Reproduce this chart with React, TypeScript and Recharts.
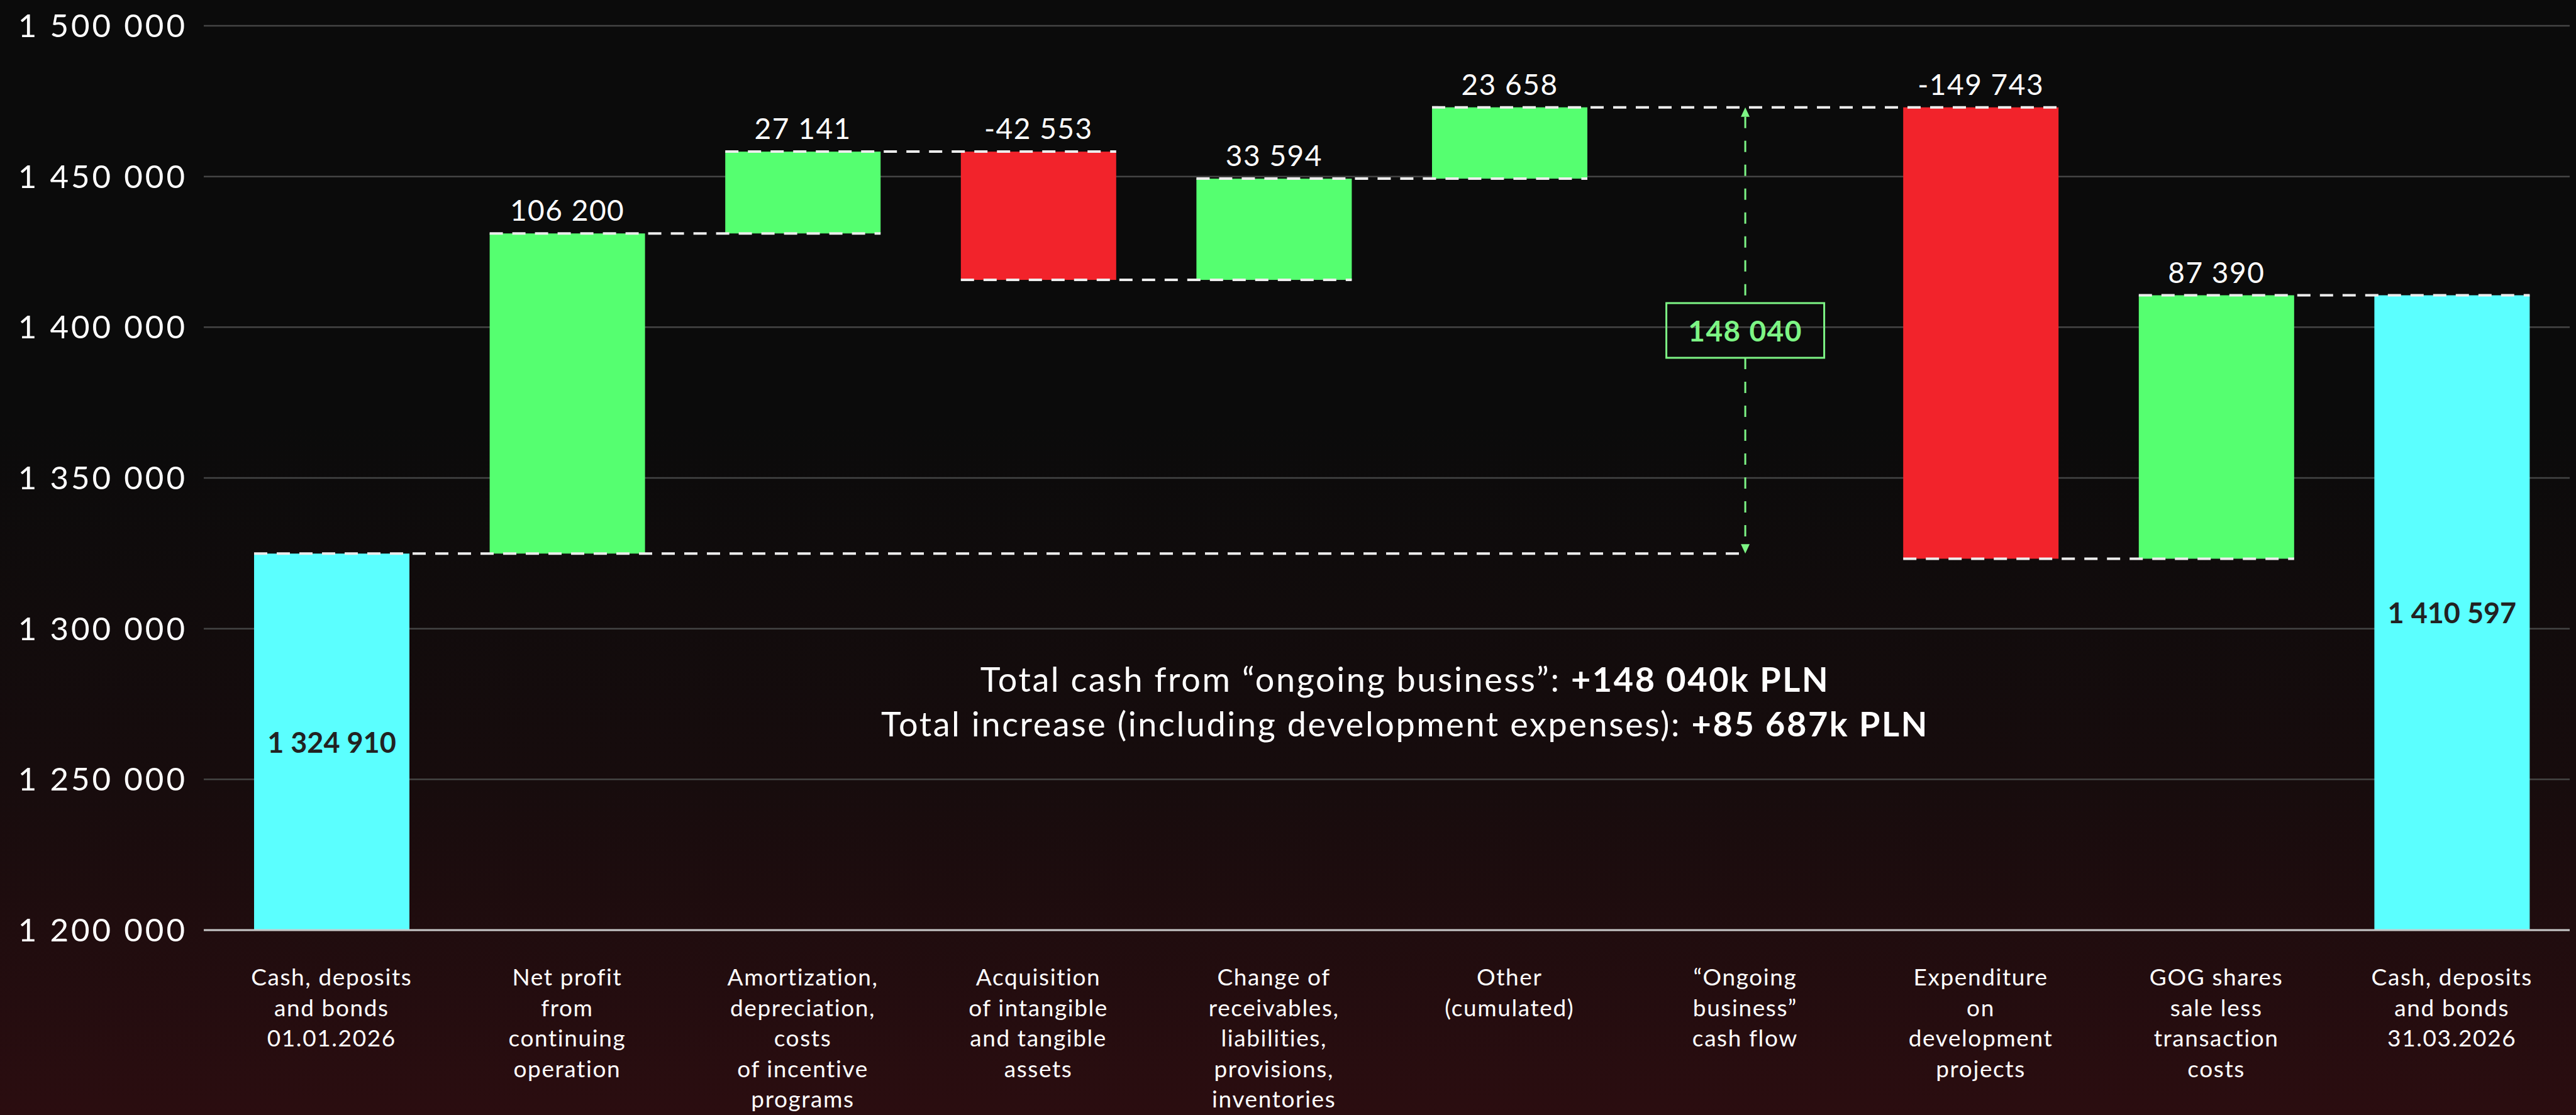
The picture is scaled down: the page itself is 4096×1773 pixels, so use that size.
import React from 'react';
import { BarChart, Bar, XAxis, YAxis, CartesianGrid, LabelList } from 'recharts';

const categoryLabels = [
  ['Cash, deposits', 'and bonds', '01.01.2026'],
  ['Net profit', 'from', 'continuing', 'operation'],
  ['Amortization,', 'depreciation,', 'costs', 'of incentive', 'programs'],
  ['Acquisition', 'of intangible', 'and tangible', 'assets'],
  ['Change of', 'receivables,', 'liabilities,', 'provisions,', 'inventories'],
  ['Other', '(cumulated)'],
  ['“Ongoing', 'business”', 'cash flow'],
  ['Expenditure', 'on', 'development', 'projects'],
  ['GOG shares', 'sale less', 'transaction', 'costs'],
  ['Cash, deposits', 'and bonds', '31.03.2026'],
];

const changes = [1324910, 106200, 27141, -42553, 33594, 23658, 148040, -149743, 87390, 1410597];
const kinds = ['total', 'step', 'step', 'step', 'step', 'step', 'subtotal', 'step', 'step', 'total'];
// where each dashed connector line ends (index of the category), -1 = none
const connectTo = [6, 2, 3, 4, 5, 7, -1, 8, 9, -1];

const yTicks = [1200000, 1250000, 1300000, 1350000, 1400000, 1450000, 1500000];

const summaryLines = [
  { text: 'Total cash from “ongoing business”: ', bold: '+148 040k PLN' },
  { text: 'Total increase (including development expenses): ', bold: '+85 687k PLN' },
];

const W = 4096;
const H = 1773;
const PLOT_LEFT = 324;
const PLOT_RIGHT = 4086;
const PLOT_TOP = 41;
const PLOT_BOTTOM = 1479;
const PAD_LEFT = 16;
const BAND = (PLOT_RIGHT - PLOT_LEFT - PAD_LEFT) / categoryLabels.length;

const FONT = 'Lato, "Noto Sans", sans-serif';
const GREEN = '#55FF70';
const RED = '#F2232B';
const CYAN = '#5BFFFF';
const ARROW_GREEN = '#7DF585';

const fmt = (n: number) => (n < 0 ? '-' : '') + String(Math.abs(n)).replace(/\B(?=(\d{3})+(?!\d))/g, ' ');

let running = 0;
const data = changes.map((v, i) => {
  let lo: number;
  let hi: number;
  let level: number;
  if (kinds[i] === 'total') {
    lo = yTicks[0];
    hi = v;
    level = v;
    running = v;
  } else if (kinds[i] === 'subtotal') {
    lo = running - v;
    hi = running;
    level = running;
  } else {
    const next = running + v;
    lo = Math.min(running, next);
    hi = Math.max(running, next);
    level = next;
    running = next;
  }
  return { name: categoryLabels[i].join('\n'), range: [lo, hi], level, change: v, kind: kinds[i], idx: i };
});

const OngoingArrow = ({ cx, top, bottom, value }: any) => {
  const mid = (top + bottom) / 2;
  const bw = 251;
  const bh = 87;
  const ah = 15;
  const aw = 7;
  const dash = { stroke: ARROW_GREEN, strokeWidth: 3, strokeDasharray: '18 20' };
  return (
    <g>
      <line x1={cx} x2={cx} y1={top + ah} y2={mid - bh / 2} {...dash} />
      <line x1={cx} x2={cx} y1={mid + bh / 2} y2={bottom - ah} {...dash} />
      <polygon points={`${cx},${top} ${cx - aw},${top + ah} ${cx + aw},${top + ah}`} fill={ARROW_GREEN} />
      <polygon points={`${cx},${bottom} ${cx - aw},${bottom - ah} ${cx + aw},${bottom - ah}`} fill={ARROW_GREEN} />
      <rect x={cx - bw / 2} y={mid - bh / 2} width={bw} height={bh} fill="none" stroke={ARROW_GREEN} strokeWidth={3} />
      <text x={cx} y={mid} textAnchor="middle" dominantBaseline="central" fill={ARROW_GREEN} fontSize={46} fontWeight={700} fontFamily={FONT} letterSpacing={1.5}>
        {fmt(value)}
      </text>
    </g>
  );
};

const WaterfallShape = (props: any) => {
  const { x, y, width, height, payload } = props;
  const top = Math.min(y, y + height);
  const h = Math.abs(height);
  if (payload.kind === 'subtotal') {
    return <OngoingArrow cx={x + width / 2} top={top} bottom={top + h} value={payload.change} />;
  }
  const fill = payload.kind === 'total' ? CYAN : payload.change >= 0 ? GREEN : RED;
  return <rect x={x} y={top} width={width} height={h} fill={fill} />;
};

const Overlay = (props: any) => {
  const vb = props.viewBox ?? props;
  const i = typeof props.index === 'number' ? props.index : Number(props.value);
  const d = data[i];
  if (!d || !vb) return null;
  const top = Math.min(vb.y, vb.y + vb.height);
  const h = Math.abs(vb.height);
  const x = vb.x;
  const width = vb.width;
  const levelY = d.level === d.range[1] ? top : top + h;
  const j = connectTo[i];
  let connector = null;
  if (j >= 0) {
    const x2 = kinds[j] === 'subtotal' ? x + width / 2 + (j - i) * BAND : x + width + (j - i) * BAND;
    connector = (
      <line x1={x} x2={x2} y1={levelY} y2={levelY} stroke="#EDEDED" strokeWidth={4} strokeDasharray="21 15" />
    );
  }
  let label = null;
  if (d.kind === 'step') {
    label = (
      <text x={x + width / 2} y={top - 20} textAnchor="middle" fill="#FFFFFF" fontSize={46} fontFamily={FONT} letterSpacing={1.5}>
        {fmt(d.change)}
      </text>
    );
  } else if (d.kind === 'total') {
    label = (
      <text x={x + width / 2} y={top + h / 2} textAnchor="middle" dominantBaseline="central" fill="#222222" fontSize={45} fontWeight={700} fontFamily={FONT}>
        {fmt(d.change)}
      </text>
    );
  }
  return (
    <g>
      {connector}
      {label}
    </g>
  );
};

const CategoryTick = ({ x, y, payload }: any) => {
  const lines = String(payload.value).split('\n');
  return (
    <text x={x} y={y} textAnchor="middle" fill="#FFFFFF" fontSize={37} fontFamily={FONT} letterSpacing={1.6}>
      {lines.map((l, k) => (
        <tspan key={k} x={x} dy={k === 0 ? 88 : 48.6}>
          {l}
        </tspan>
      ))}
    </text>
  );
};

export default function App() {
  return (
    <div
      style={{
        position: 'absolute',
        left: 0,
        top: 0,
        width: W,
        height: H,
        fontFamily: FONT,
        background: 'linear-gradient(to bottom, #0b0b0b 0%, #0b0b0b 38%, #170c0d 70%, #2b0d10 100%)',
      }}
    >
      <BarChart
        width={W}
        height={H}
        data={data}
        margin={{ top: PLOT_TOP, right: W - PLOT_RIGHT, bottom: 0, left: 0 }}
        barSize={247}
      >
        <CartesianGrid horizontal vertical={false} stroke="#444444" strokeWidth={2.5} />
        <YAxis
          type="number"
          domain={[yTicks[0], yTicks[yTicks.length - 1]]}
          ticks={yTicks}
          allowDataOverflow
          width={PLOT_LEFT}
          axisLine={false}
          tickLine={false}
          tickSize={0}
          tickMargin={26}
          tickFormatter={fmt}
          tick={{ fill: '#FFFFFF', fontSize: 51, fontFamily: FONT, letterSpacing: 4 }}
        />
        <XAxis
          dataKey="name"
          height={H - PLOT_BOTTOM}
          padding={{ left: PAD_LEFT, right: 0 }}
          axisLine={{ stroke: '#C8C8C8', strokeWidth: 3 }}
          tickLine={false}
          tickSize={0}
          tickMargin={0}
          interval={0}
          tick={<CategoryTick />}
        />
        <Bar dataKey="range" isAnimationActive={false} shape={<WaterfallShape />}>
          <LabelList dataKey="idx" content={<Overlay />} />
        </Bar>
      </BarChart>
      <svg width={W} height={H} style={{ position: 'absolute', left: 0, top: 0, pointerEvents: 'none' }}>
        {summaryLines.map((s, k) => (
          <text key={k} x={2234} y={1100 + k * 71} textAnchor="middle" fill="#FFFFFF" fontSize={54} fontFamily={FONT} letterSpacing={2.6}>
            {s.text}
            <tspan fontWeight={700}>{s.bold}</tspan>
          </text>
        ))}
      </svg>
    </div>
  );
}
